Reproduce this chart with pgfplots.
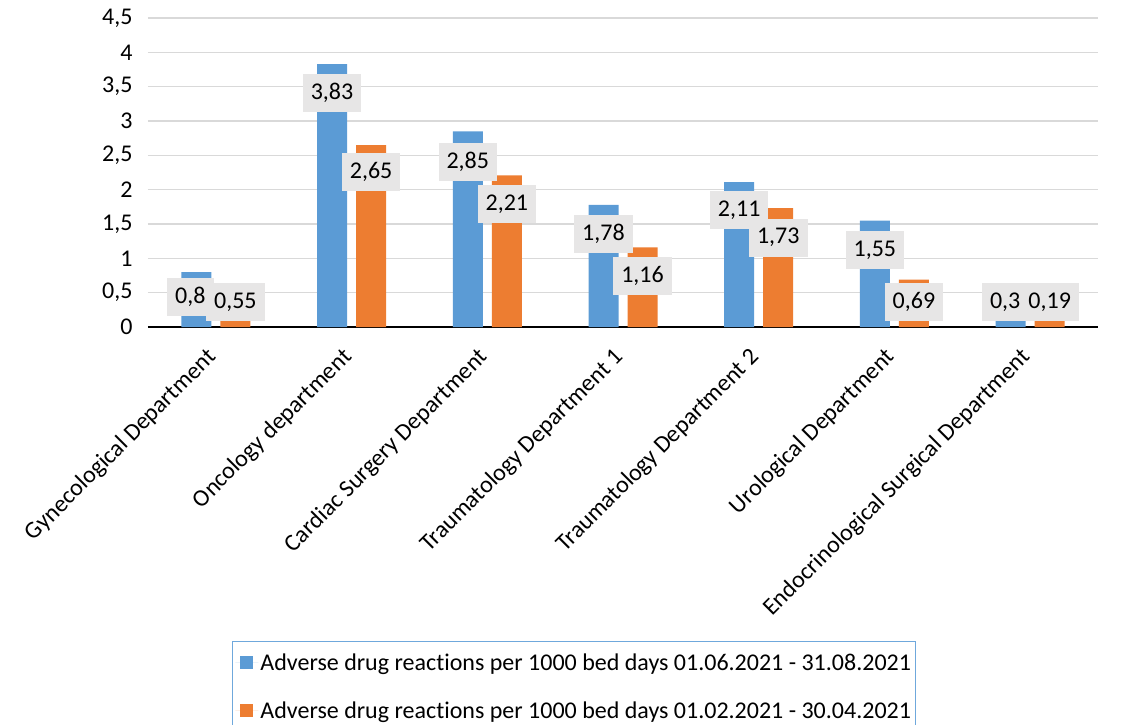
\documentclass[border=0pt]{standalone}
\usepackage{pgfplots}
\pgfplotsset{compat=1.18}
\usepackage{fontspec}
\setmainfont{Carlito}[Ligatures={NoCommon}]
\definecolor{cblue}{HTML}{5B9BD5}
\definecolor{corange}{HTML}{ED7D31}
\definecolor{lblgray}{HTML}{E7E6E6}
\definecolor{gridgray}{HTML}{D9D9D9}
\definecolor{legborder}{HTML}{6FA8DC}
\newcommand{\fs}{\fontsize{24}{29}\selectfont}
\begin{document}
\begin{tikzpicture}[x=1pt,y=1pt]
\begin{axis}[
  name=ax,
  scale only axis, width=950pt, height=309pt,
  xmin=-0.5, xmax=6.5, ymin=0, ymax=4.5,
  ytick={0,0.5,...,4.5},
  xtick={0,...,6},
  xticklabels={Gynecological Department, Oncology department, Cardiac Surgery Department, Traumatology Department 1, Traumatology Department 2, Urological Department, Endocrinological Surgical Department},
  axis x line*=bottom, axis y line*=left,
  x axis line style={black, line width=1.5pt, -},
  y axis line style={draw=none},
  major tick length=0pt,
  ymajorgrids, grid style={gridgray, line width=1.5pt},
  tick label style={font=\fs, text=black},
  xticklabel style={rotate=45, anchor=north east, inner sep=2pt, yshift=-4pt, xshift=-19pt},
  yticklabel style={xshift=-12pt},
  /pgf/number format/.cd, use comma, assume math mode=true,
  /pgfplots/.cd,
  legend style={at={(0.0884,-1.016)}, anchor=north west, draw=legborder, line width=1pt,
    font=\fs, row sep=26pt, inner xsep=3pt, inner ysep=10pt, fill=white},
  legend cell align=left,
]
\addplot[ybar, bar width=30pt, bar shift=-19.5pt, fill=cblue, draw=none,
  legend image code/.code={\path (0pt,0pt) -- (23pt,0pt); \fill[cblue] (5pt,-6pt) rectangle (18pt,7pt);}]
  coordinates {(0,0.8) (1,3.83) (2,2.85) (3,1.78) (4,2.11) (5,1.55) (6,0.3)};
\addlegendentry{Adverse drug reactions per 1000 bed days 01.06.2021 - 31.08.2021}
\addplot[ybar, bar width=30pt, bar shift=19.5pt, fill=corange, draw=none,
  legend image code/.code={\path (0pt,0pt) -- (23pt,0pt); \fill[corange] (5pt,-6pt) rectangle (18pt,7pt);}]
  coordinates {(0,0.55) (1,2.65) (2,2.21) (3,1.16) (4,1.73) (5,0.69) (6,0.19)};
\addlegendentry{Adverse drug reactions per 1000 bed days 01.02.2021 - 30.04.2021}
\addplot[draw=none, mark=none, forget plot, nodes near coords, point meta=explicit symbolic,
  every node near coord/.append style={fill=lblgray, anchor=center, minimum height=38pt, inner ysep=0pt, inner xsep=8pt, font=\fs, text=black}]
  coordinates {(-0.188,0.437) [0,8] (0.856,3.41) [3,83] (1.856,2.41) [2,85] (2.856,1.35) [1,78] (3.856,1.70) [2,11] (4.856,1.12) [1,55] (5.816,0.364) [0,3]};
\addplot[draw=none, mark=none, forget plot, nodes near coords, point meta=explicit symbolic,
  every node near coord/.append style={fill=lblgray, anchor=center, minimum height=38pt, inner ysep=0pt, inner xsep=8pt, font=\fs, text=black}]
  coordinates {(0.144,0.364) [0,55] (1.144,2.26) [2,65] (2.144,1.79) [2,21] (3.144,0.74) [1,16] (4.144,1.30) [1,73] (5.144,0.364) [0,69] (6.144,0.364) [0,19]};
\end{axis}
\pgfresetboundingbox
\path[use as bounding box] (ax.south west) ++(-148,-397) rectangle ++(1123,724);
\end{tikzpicture}
\end{document}
